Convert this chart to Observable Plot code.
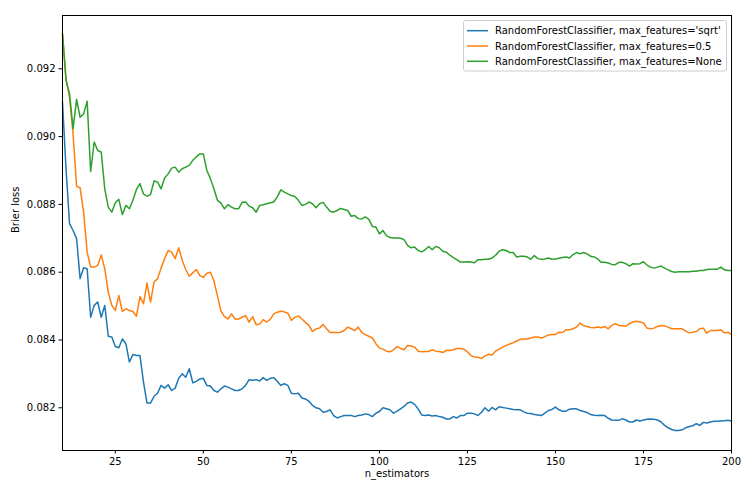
<!DOCTYPE html>
<html>
<head>
<meta charset="utf-8">
<script src="https://cdn.jsdelivr.net/npm/d3@7"></script>
<script src="https://cdn.jsdelivr.net/npm/@observablehq/plot@0.6"></script>
<style>
  html, body { margin: 0; padding: 0; background: white; }
  #chart svg { display: block; }
</style>
</head>
<body>
<div id="chart"></div>
<script>
const nEstimators = d3.range(10, 201);

const seriesNames = [
  "RandomForestClassifier, max_features='sqrt'",
  "RandomForestClassifier, max_features=0.5",
  "RandomForestClassifier, max_features=None"
];
const seriesColors = ["#1f77b4", "#ff7f0e", "#2ca02c"];

const lossSqrt = [
  0.09102, 0.08905, 0.08743, 0.08723, 0.08699, 0.08581, 0.08613, 0.08610, 0.08467, 0.08502,
  0.08512, 0.08467, 0.08502, 0.08411, 0.08409, 0.08381, 0.08377, 0.08403, 0.08389, 0.08335,
  0.08357, 0.08354, 0.08354, 0.08276, 0.08214, 0.08214, 0.08234, 0.08243, 0.08266, 0.08258,
  0.08268, 0.08251, 0.08258, 0.08287, 0.08300, 0.08290, 0.08315, 0.08274, 0.08278, 0.08285,
  0.08287, 0.08266, 0.08264, 0.08251, 0.08246, 0.08256, 0.08264, 0.08261, 0.08256, 0.08251,
  0.08251, 0.08256, 0.08266, 0.08283, 0.08281, 0.08283, 0.08279, 0.08289, 0.08281, 0.08287,
  0.08289, 0.08278, 0.08266, 0.08271, 0.08266, 0.08243, 0.08241, 0.08243, 0.08229, 0.08226,
  0.08219, 0.08207, 0.08200, 0.08197, 0.08187, 0.08189, 0.08194, 0.08177, 0.08170, 0.08174,
  0.08177, 0.08177, 0.08177, 0.08174, 0.08177, 0.08179, 0.08182, 0.08180, 0.08174, 0.08184,
  0.08189, 0.08200, 0.08197, 0.08194, 0.08184, 0.08190, 0.08197, 0.08204, 0.08214, 0.08217,
  0.08210, 0.08197, 0.08179, 0.08177, 0.08179, 0.08176, 0.08177, 0.08174, 0.08172, 0.08167,
  0.08167, 0.08174, 0.08170, 0.08177, 0.08177, 0.08184, 0.08184, 0.08182, 0.08177, 0.08187,
  0.08200, 0.08190, 0.08201, 0.08194, 0.08203, 0.08201, 0.08199, 0.08197, 0.08195, 0.08194,
  0.08194, 0.08188, 0.08184, 0.08183, 0.08180, 0.08179, 0.08177, 0.08184, 0.08192, 0.08195,
  0.08202, 0.08194, 0.08190, 0.08190, 0.08196, 0.08197, 0.08197, 0.08192, 0.08189, 0.08186,
  0.08180, 0.08178, 0.08177, 0.08178, 0.08177, 0.08169, 0.08164, 0.08163, 0.08163, 0.08168,
  0.08164, 0.08158, 0.08158, 0.08164, 0.08161, 0.08164, 0.08166, 0.08167, 0.08166, 0.08164,
  0.08158, 0.08148, 0.08141, 0.08136, 0.08133, 0.08133, 0.08135, 0.08141, 0.08145, 0.08147,
  0.08153, 0.08148, 0.08157, 0.08155, 0.08158, 0.08160, 0.08160, 0.08161, 0.08162, 0.08163,
  0.08161
];

const lossHalf = [
  0.09303, 0.09170, 0.09116, 0.09008, 0.08853, 0.08849, 0.08777, 0.08659, 0.08615, 0.08615,
  0.08620, 0.08651, 0.08610, 0.08541, 0.08502, 0.08487, 0.08531, 0.08484, 0.08492, 0.08487,
  0.08484, 0.08470, 0.08528, 0.08507, 0.08568, 0.08512, 0.08571, 0.08581, 0.08612, 0.08640,
  0.08664, 0.08659, 0.08640, 0.08672, 0.08635, 0.08608, 0.08588, 0.08598, 0.08608, 0.08590,
  0.08585, 0.08597, 0.08600, 0.08574, 0.08531, 0.08485, 0.08469, 0.08462, 0.08477, 0.08462,
  0.08462, 0.08467, 0.08472, 0.08453, 0.08469, 0.08445, 0.08447, 0.08460, 0.08453, 0.08461,
  0.08477, 0.08482, 0.08485, 0.08483, 0.08479, 0.08458, 0.08467, 0.08471, 0.08462, 0.08452,
  0.08443, 0.08425, 0.08433, 0.08435, 0.08446, 0.08433, 0.08422, 0.08422, 0.08422, 0.08423,
  0.08428, 0.08438, 0.08433, 0.08428, 0.08438, 0.08422, 0.08416, 0.08411, 0.08406, 0.08389,
  0.08376, 0.08373, 0.08367, 0.08365, 0.08371, 0.08381, 0.08375, 0.08371, 0.08384, 0.08382,
  0.08379, 0.08367, 0.08365, 0.08366, 0.08366, 0.08371, 0.08367, 0.08366, 0.08363, 0.08369,
  0.08369, 0.08371, 0.08375, 0.08375, 0.08373, 0.08365, 0.08354, 0.08350, 0.08349, 0.08345,
  0.08353, 0.08358, 0.08356, 0.08367, 0.08373, 0.08379, 0.08384, 0.08388, 0.08392, 0.08397,
  0.08402, 0.08403, 0.08403, 0.08406, 0.08409, 0.08409, 0.08406, 0.08410, 0.08415, 0.08416,
  0.08416, 0.08423, 0.08422, 0.08430, 0.08430, 0.08433, 0.08438, 0.08450, 0.08442, 0.08440,
  0.08437, 0.08436, 0.08438, 0.08436, 0.08440, 0.08433, 0.08443, 0.08448, 0.08443, 0.08442,
  0.08441, 0.08448, 0.08453, 0.08455, 0.08453, 0.08450, 0.08435, 0.08433, 0.08435, 0.08440,
  0.08443, 0.08441, 0.08438, 0.08433, 0.08433, 0.08433, 0.08433, 0.08426, 0.08421, 0.08423,
  0.08425, 0.08433, 0.08435, 0.08420, 0.08428, 0.08428, 0.08428, 0.08430, 0.08421, 0.08423,
  0.08415
];

const lossNone = [
  0.09303, 0.09166, 0.09126, 0.09023, 0.09110, 0.09057, 0.09067, 0.09104, 0.08897, 0.08984,
  0.08959, 0.08954, 0.08846, 0.08792, 0.08777, 0.08805, 0.08815, 0.08770, 0.08797, 0.08787,
  0.08812, 0.08844, 0.08861, 0.08831, 0.08824, 0.08829, 0.08869, 0.08866, 0.08846, 0.08878,
  0.08890, 0.08907, 0.08910, 0.08895, 0.08905, 0.08910, 0.08915, 0.08930, 0.08940, 0.08949,
  0.08949, 0.08900, 0.08876, 0.08846, 0.08812, 0.08804, 0.08787, 0.08799, 0.08792, 0.08787,
  0.08787, 0.08806, 0.08807, 0.08795, 0.08790, 0.08777, 0.08797, 0.08799, 0.08802, 0.08805,
  0.08807, 0.08822, 0.08843, 0.08836, 0.08831, 0.08826, 0.08823, 0.08812, 0.08797, 0.08800,
  0.08807, 0.08802, 0.08790, 0.08802, 0.08806, 0.08792, 0.08780, 0.08777, 0.08782, 0.08788,
  0.08785, 0.08782, 0.08765, 0.08767, 0.08758, 0.08757, 0.08763, 0.08756, 0.08735, 0.08733,
  0.08713, 0.08723, 0.08708, 0.08702, 0.08701, 0.08701, 0.08700, 0.08696, 0.08679, 0.08672,
  0.08674, 0.08664, 0.08660, 0.08666, 0.08676, 0.08666, 0.08676, 0.08672, 0.08662, 0.08659,
  0.08650, 0.08643, 0.08637, 0.08630, 0.08630, 0.08631, 0.08630, 0.08628, 0.08637, 0.08637,
  0.08638, 0.08638, 0.08642, 0.08650, 0.08662, 0.08666, 0.08664, 0.08658, 0.08658, 0.08645,
  0.08647, 0.08647, 0.08645, 0.08638, 0.08649, 0.08640, 0.08638, 0.08639, 0.08642, 0.08638,
  0.08639, 0.08641, 0.08643, 0.08645, 0.08642, 0.08652, 0.08658, 0.08654, 0.08658, 0.08654,
  0.08647, 0.08645, 0.08639, 0.08629, 0.08629, 0.08627, 0.08623, 0.08622, 0.08629, 0.08629,
  0.08625, 0.08618, 0.08625, 0.08624, 0.08625, 0.08631, 0.08621, 0.08615, 0.08612, 0.08615,
  0.08618, 0.08612, 0.08607, 0.08602, 0.08600, 0.08601, 0.08601, 0.08601, 0.08601, 0.08603,
  0.08603, 0.08605, 0.08605, 0.08608, 0.08609, 0.08609, 0.08609, 0.08615, 0.08607, 0.08605,
  0.08605
];

const xTicks = [25, 50, 75, 100, 125, 150, 175, 200];
const yTicks = [0.082, 0.084, 0.086, 0.088, 0.090, 0.092];
const xLabel = "n_estimators";
const yLabel = "Brier loss";

const allLosses = [lossSqrt, lossHalf, lossNone];
const rows = [];
allLosses.forEach((arr, si) => {
  arr.forEach((v, i) => rows.push({n: nEstimators[i], loss: v, series: seriesNames[si]}));
});

const FONT = "'DejaVu Sans', sans-serif";

const chart = Plot.plot({
  width: 748,
  height: 491,
  marginLeft: 62,
  marginRight: 17,
  marginTop: 15,
  marginBottom: 41,
  style: {fontFamily: FONT, fontSize: "10px", color: "black", background: "white", overflow: "visible"},
  x: {domain: [10, 200]},
  y: {domain: [0.08074, 0.093572]},
  color: {domain: seriesNames, range: seriesColors},
  marks: [
    Plot.line(rows, {x: "n", y: "loss", z: "series", stroke: "series", strokeWidth: 1.5}),
    Plot.frame({stroke: "black", strokeWidth: 1}),
    Plot.axisX({ticks: xTicks, tickSize: 3.5, tickPadding: 3.5, label: null, fontSize: 10, stroke: "black"}),
    Plot.axisY({ticks: yTicks, tickSize: 3.5, tickPadding: 3.5, label: null, fontSize: 10, tickFormat: d3.format(".3f"), stroke: "black"}),
    Plot.text([xLabel], {text: d => d, frameAnchor: "bottom", dy: 26, fontSize: 10, fill: "black"}),
    Plot.text([yLabel], {text: d => d, frameAnchor: "left", dx: -47, rotate: -90, fontSize: 10, fill: "black"})
  ]
});

document.getElementById("chart").appendChild(chart);

// Legend (matplotlib style, upper right inside axes)
const svg = d3.select(chart);
const lg = svg.append("g")
  .attr("font-family", FONT)
  .attr("font-size", 10)
  .attr("text-anchor", "start");
lg.append("rect")
  .attr("x", 463.5).attr("y", 20.5).attr("width", 263).attr("height", 50.5)
  .attr("rx", 2).attr("fill", "white").attr("fill-opacity", 0.8)
  .attr("stroke", "#cccccc").attr("stroke-width", 1);
const rowY = [30.7, 46, 61.3];
seriesNames.forEach((name, i) => {
  lg.append("line")
    .attr("x1", 467).attr("x2", 488)
    .attr("y1", rowY[i]).attr("y2", rowY[i])
    .attr("stroke", seriesColors[i]).attr("stroke-width", 1.5);
  lg.append("text")
    .attr("x", 495).attr("y", rowY[i])
    .attr("dy", "0.35em")
    .attr("text-anchor", "start")
    .attr("fill", "black")
    .text(name);
});
</script>
</body>
</html>
